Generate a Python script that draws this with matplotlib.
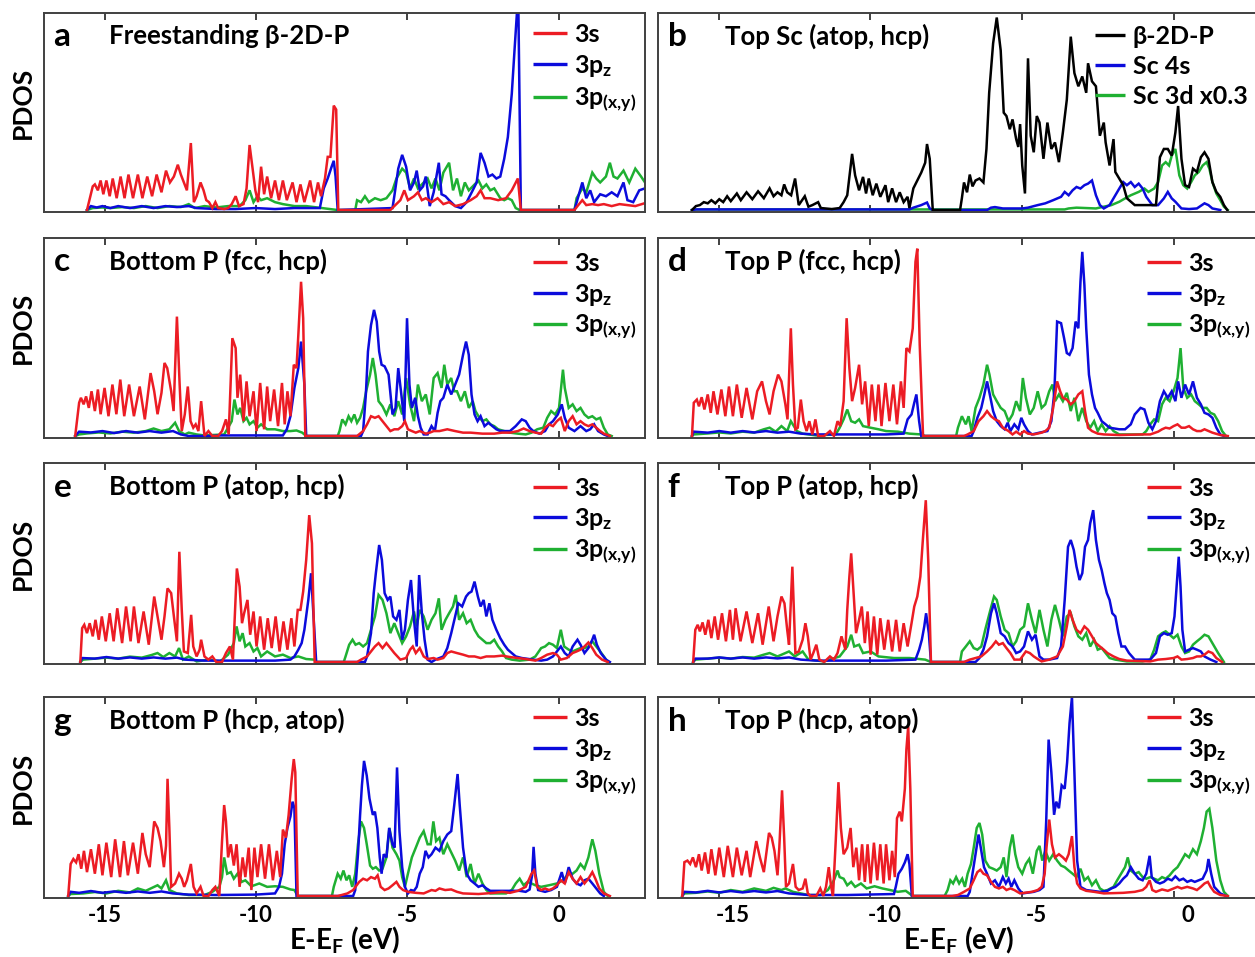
import matplotlib
matplotlib.use("Agg")
import matplotlib.pyplot as plt
from matplotlib.transforms import ScaledTranslation

plt.rcParams["font.family"] = ["Lato", "DejaVu Sans"]
plt.rcParams["font.weight"] = "bold"
plt.rcParams["axes.labelweight"] = "bold"
plt.rcParams["mathtext.default"] = "regular"
plt.rcParams["axes.unicode_minus"] = False

# ---------------------------------------------------------------------------
# Projected DOS, (E - E_F [eV], PDOS [arb. units]) vertices for every curve
# ---------------------------------------------------------------------------

# (a) freestanding beta-2D-P
A_3S = [(-15.58, 0), (-15.39, 12), (-15.32, 13), (-15.22, 10), (-15.13, 15), (-15.04, 8), (-14.94, 15),
        (-14.83, 7), (-14.73, 16), (-14.60, 6), (-14.47, 17), (-14.34, 6), (-14.21, 18), (-14.06, 6),
        (-13.90, 18), (-13.75, 6), (-13.59, 17), (-13.43, 7), (-13.28, 18), (-13.12, 9), (-12.97, 20),
        (-12.84, 14), (-12.71, 17), (-12.58, 23), (-12.48, 18), (-12.28, 10), (-12.15, 34), (-12.05, 4),
        (-11.96, 7), (-11.83, 14), (-11.73, 10), (-11.64, 5), (-11.55, 4), (-11.44, 1), (-11.34, 4),
        (-11.25, 1), (-11.05, 0.5), (-10.92, 1), (-10.80, 3), (-10.67, 7), (-10.56, 2), (-10.41, 3),
        (-10.31, 11), (-10.21, 33), (-10.11, 21), (-10.02, 10), (-9.93, 4), (-9.83, 22), (-9.73, 8),
        (-9.63, 17), (-9.50, 6), (-9.37, 15), (-9.24, 5), (-9.11, 15), (-8.98, 5), (-8.79, 14), (-8.66, 4),
        (-8.53, 13), (-8.40, 4), (-8.21, 15), (-8.08, 4), (-7.95, 14), (-7.85, 7), (-7.72, 16), (-7.63, 27),
        (-7.54, 27), (-7.43, 53), (-7.35, 51), (-7.28, 0), (-5.56, 0), (-5.43, 2), (-5.23, 5), (-5.10, 10),
        (-4.98, 5), (-4.78, 7), (-4.65, 9), (-4.52, 5), (-4.39, 6), (-4.20, 4), (-4.00, 6), (-3.81, 3),
        (-3.62, 4), (-3.42, 2), (-3.16, 3), (-2.91, 5), (-2.71, 7), (-2.58, 10), (-2.45, 6), (-2.26, 6),
        (-2.00, 5), (-1.74, 6), (-1.55, 10), (-1.35, 16), (-1.25, 0), (0.52, 0), (0.62, 2), (0.78, 5),
        (0.91, 2.5), (1.11, 3), (1.30, 2.5), (1.49, 3), (1.75, 2), (2.01, 3), (2.27, 2.5), (2.53, 2),
        (2.85, 3.5)]
A_3PZ = [(-15.58, 0), (-15.45, 2), (-15.26, 1.3), (-15.07, 2), (-14.81, 1), (-14.55, 2), (-14.16, 1),
         (-13.77, 2), (-13.38, 1), (-12.99, 2), (-12.61, 1.5), (-12.22, 2), (-11.96, 1), (-11.31, 0.5),
         (-10.67, 0.5), (-10.02, 1), (-9.37, 0.5), (-8.73, 1), (-7.89, 1), (-7.76, 11), (-7.63, 16),
         (-7.50, 22), (-7.43, 25), (-7.37, 17), (-7.30, 0), (-5.49, 1), (-5.43, 7), (-5.30, 21), (-5.17, 28),
         (-5.04, 22), (-4.91, 10), (-4.78, 14), (-4.69, 20), (-4.59, 10), (-4.48, 12), (-4.39, 17),
         (-4.26, 2), (-4.13, 9), (-3.96, 24), (-3.87, 8), (-3.74, 7), (-3.62, 5), (-3.42, 2), (-3.23, 1),
         (-3.04, 4), (-2.84, 10), (-2.71, 14), (-2.58, 29), (-2.45, 24), (-2.32, 17), (-2.19, 18),
         (-2.06, 16), (-1.93, 17), (-1.80, 26), (-1.68, 37), (-1.55, 59), (-1.46, 81), (-1.38, 100),
         (-1.33, 100), (-1.25, 0), (0.52, 0), (0.65, 7), (0.78, 14), (0.91, 6), (1.04, 10), (1.17, 4),
         (1.37, 8), (1.56, 7), (1.75, 9), (1.94, 7), (2.14, 14), (2.27, 5), (2.46, 4), (2.66, 10),
         (2.85, 11)]
A_3PXY = [(-15.58, 0), (-15.39, 1), (-15.07, 1.3), (-14.81, 1), (-14.42, 1.5), (-14.03, 1), (-13.64, 2),
          (-13.25, 1), (-12.86, 2), (-12.48, 1.5), (-12.22, 3), (-12.02, 1), (-11.70, 2), (-11.31, 1.3),
          (-10.92, 2), (-10.54, 2), (-10.35, 5), (-10.21, 10), (-10.08, 4), (-9.95, 7), (-9.83, 5),
          (-9.63, 6), (-9.37, 4), (-9.11, 3), (-8.73, 2), (-8.34, 2), (-7.82, 1), (-7.30, 0), (-6.72, 0),
          (-6.66, 5), (-6.53, 4), (-6.40, 7), (-6.27, 4), (-6.07, 6), (-5.88, 5), (-5.69, 6), (-5.49, 10),
          (-5.36, 16), (-5.17, 21), (-5.04, 19), (-4.91, 11), (-4.78, 16), (-4.65, 11), (-4.52, 13),
          (-4.33, 16), (-4.20, 11), (-4.07, 16), (-3.94, 10), (-3.81, 19), (-3.62, 24), (-3.49, 10),
          (-3.36, 16), (-3.23, 7), (-3.10, 14), (-2.97, 10), (-2.84, 12), (-2.65, 15), (-2.52, 11),
          (-2.39, 13), (-2.26, 10), (-2.13, 11), (-1.93, 6), (-1.80, 5), (-1.68, 6), (-1.55, 5), (-1.42, 1),
          (-1.29, 0), (0.52, 0), (0.59, 6), (0.78, 11), (0.91, 9), (1.11, 19), (1.24, 16), (1.37, 14),
          (1.56, 17), (1.69, 24), (1.81, 17), (1.94, 16), (2.14, 20), (2.33, 14), (2.53, 21), (2.72, 17),
          (2.85, 14)]

# (b) top Sc atom
B_P2D = [(-15.88, 0), (-15.75, 2), (-15.62, 2.5), (-15.49, 4), (-15.36, 3.4), (-15.24, 5), (-15.11, 3.4),
         (-14.98, 5.5), (-14.85, 4), (-14.72, 7), (-14.60, 4.5), (-14.40, 8.4), (-14.27, 5), (-14.08, 9),
         (-13.89, 5.5), (-13.70, 9.5), (-13.51, 6), (-13.32, 11), (-13.19, 7), (-13.06, 9), (-12.93, 7.5),
         (-12.84, 13), (-12.74, 9), (-12.61, 7.5), (-12.48, 16), (-12.36, 2.5), (-12.16, 7), (-12.04, 1.7),
         (-11.91, 2.5), (-11.72, 4), (-11.63, 1), (-11.27, 0.5), (-11.01, 1), (-10.88, 4), (-10.76, 7.5),
         (-10.60, 28.5), (-10.50, 17.6), (-10.37, 10), (-10.24, 16.8), (-10.14, 8.4), (-10.05, 16),
         (-9.92, 7.5), (-9.80, 13.4), (-9.67, 6.7), (-9.50, 12.6), (-9.41, 4), (-9.28, 11), (-9.15, 4),
         (-9.03, 9), (-8.90, 4), (-8.77, 6.7), (-8.71, 1), (-8.58, 11), (-8.45, 15), (-8.32, 19),
         (-8.19, 24), (-8.13, 33.5), (-8.04, 26), (-7.94, 0), (-7.04, 0), (-6.98, 6), (-6.91, 14),
         (-6.81, 9), (-6.72, 18), (-6.63, 12), (-6.53, 15), (-6.40, 16), (-6.27, 14), (-6.17, 31),
         (-6.08, 59.5), (-5.95, 84.6), (-5.83, 97.7), (-5.70, 81), (-5.60, 49.4), (-5.51, 47.7), (-5.40, 41),
         (-5.31, 46), (-5.19, 36), (-5.12, 32), (-5.06, 43.6), (-4.99, 22.6), (-4.90, 8.4), (-4.80, 77),
         (-4.71, 37.7), (-4.61, 29.3), (-4.51, 47.7), (-4.42, 44.4), (-4.29, 26), (-4.16, 44.4), (-4.03, 31),
         (-3.91, 34.3), (-3.78, 24.3), (-3.65, 39.4), (-3.52, 56), (-3.39, 88), (-3.27, 69.5), (-3.14, 62.8),
         (-3.01, 67.8), (-2.88, 59.5), (-2.82, 74.5), (-2.69, 65.3), (-2.56, 62.8), (-2.43, 37.7),
         (-2.30, 44.4), (-2.24, 34.3), (-2.11, 22.6), (-1.98, 36), (-1.92, 19.3), (-1.79, 16), (-1.66, 12.6),
         (-1.54, 6), (-1.28, 2.5), (-0.58, 2.5), (-0.45, 26.8), (-0.32, 31), (-0.19, 31), (-0.06, 27.6),
         (0.06, 39.4), (0.15, 52.8), (0.26, 26), (0.38, 12.6), (0.51, 11.7), (0.64, 21), (0.77, 19.3),
         (0.90, 26.8), (1.02, 29.3), (1.15, 26), (1.28, 14.2), (1.41, 9.2), (1.54, 6.7), (1.66, 2.5),
         (1.77, 0)]
B_SC4S = [(-15.88, 0), (-15.75, 0.3), (-8.71, 0.3), (-8.58, 1.2), (-8.32, 2.5), (-8.13, 3.8), (-8.04, 0.8),
          (-7.94, 0), (-6.15, 0), (-6.02, 1.2), (-5.89, 1.5), (-5.63, 0.8), (-4.99, 0.8), (-4.80, 1.2),
          (-4.48, 2.5), (-4.23, 3.4), (-3.97, 5), (-3.71, 6.7), (-3.59, 9.2), (-3.46, 7.5), (-3.33, 10),
          (-3.20, 11.7), (-3.07, 10.9), (-2.94, 12.6), (-2.82, 13.4), (-2.69, 15), (-2.56, 7.5), (-2.43, 2.5),
          (-2.30, 0.8), (-2.11, 2.5), (-1.92, 7.5), (-1.79, 10.9), (-1.66, 14.2), (-1.54, 12.6),
          (-1.41, 14.2), (-1.28, 11.7), (-1.15, 13.4), (-1.02, 10.9), (-0.90, 6.7), (-0.70, 2.5),
          (-0.51, 2.5), (-0.32, 5.9), (-0.19, 9.2), (-0.06, 5.9), (0.06, 4.2), (0.26, 0.8), (0.51, 0.5),
          (0.77, 0.8), (1.02, 3.4), (1.15, 2.5), (1.28, 0.8), (1.54, 0)]
B_SC3D = [(-15.88, 0), (-15.75, 0.3), (-3.59, 0.3), (-3.46, 0.8), (-3.20, 1.2), (-2.56, 0.8), (-2.30, 1.7),
          (-2.05, 2.5), (-1.79, 4.2), (-1.60, 5.9), (-1.41, 7.5), (-1.15, 9.2), (-0.96, 10.9), (-0.83, 9.2),
          (-0.64, 10.9), (-0.51, 14.2), (-0.38, 22.6), (-0.26, 24.3), (-0.15, 22.6), (-0.06, 27.6),
          (0.06, 31), (0.19, 17.6), (0.32, 12.6), (0.45, 10.9), (0.58, 14.2), (0.70, 17.6), (0.83, 19.3),
          (0.96, 22.6), (1.09, 24.3), (1.18, 21), (1.28, 14.2), (1.41, 8.4), (1.54, 5), (1.66, 1.7),
          (1.79, 0)]

# (c) bottom P, (fcc, hcp)
C_3S = [(-15.97, 0), (-15.84, 16.8), (-15.78, 19.3), (-15.69, 16), (-15.61, 20), (-15.52, 14.2), (-15.43, 22.6),
        (-15.32, 12.6), (-15.22, 23.5), (-15.13, 11), (-15.00, 24.3), (-14.87, 10), (-14.74, 26), (-14.61, 11),
        (-14.48, 28.5), (-14.35, 10), (-14.19, 26), (-14.03, 10), (-13.84, 25), (-13.67, 8.4), (-13.48, 31.8),
        (-13.36, 22.6), (-13.25, 11), (-13.12, 21.8), (-13.02, 36.9), (-12.93, 34.3), (-12.80, 22.6),
        (-12.72, 12.6), (-12.61, 60.3), (-12.52, 26), (-12.45, 2.5), (-12.35, 11), (-12.25, 25), (-12.16, 7.5),
        (-12.07, 4.2), (-11.99, 5.9), (-11.90, 2.5), (-11.81, 17.6), (-11.70, 0), (-11.57, 2.5), (-11.44, 0),
        (-11.25, 0), (-11.12, 2.5), (-10.99, 8.4), (-10.90, 0.8), (-10.78, 49.4), (-10.67, 44.4),
        (-10.61, 19.3), (-10.52, 31), (-10.41, 7.5), (-10.31, 27.6), (-10.21, 10), (-10.08, 22.6),
        (-9.98, 2.5), (-9.86, 26.8), (-9.73, 3.4), (-9.63, 25), (-9.53, 7.5), (-9.40, 23.5), (-9.27, 5),
        (-9.14, 26.8), (-9.05, 5.9), (-8.96, 22.6), (-8.86, 10), (-8.75, 36), (-8.66, 34.3), (-8.60, 51),
        (-8.51, 77.9), (-8.44, 59.5), (-8.37, 0), (-6.66, 0), (-6.46, 2.5), (-6.33, 5.9), (-6.20, 10),
        (-6.07, 9.2), (-5.95, 10), (-5.82, 7.5), (-5.69, 5), (-5.56, 2.5), (-5.43, 3.4), (-5.30, 3.4),
        (-5.17, 5), (-5.08, 7.5), (-4.98, 3.4), (-4.85, 2.5), (-4.72, 1.7), (-4.59, 2.5), (-4.39, 1.2),
        (-4.26, 1.7), (-4.13, 2.5), (-3.94, 2.5), (-3.68, 3.4), (-3.42, 2.5), (-3.16, 1.7), (-2.91, 1.7),
        (-2.52, 1.2), (-2.13, 1.2), (-1.87, 1.7), (-1.61, 1.7), (-1.35, 2.5), (-1.16, 3.8), (-0.96, 2.5),
        (-0.77, 1.7), (-0.58, 1.2), (-0.45, 4.2), (-0.32, 5.9), (-0.19, 5), (-0.06, 7.5), (0.07, 9.2),
        (0.20, 2.5), (0.33, 7.5), (0.46, 10), (0.59, 5.9), (0.72, 7.5), (0.85, 5.9), (0.98, 5), (1.11, 5.9),
        (1.24, 4.2), (1.37, 2.5), (1.49, 1.2), (1.69, 0)]
C_3PZ = [(-15.97, 0), (-15.84, 2.2), (-15.45, 1.8), (-15.07, 2.5), (-14.68, 1.5), (-14.29, 2.5), (-13.90, 1.7),
         (-13.51, 2.5), (-13.12, 1.7), (-12.74, 2.5), (-12.48, 0.8), (-12.22, 0), (-11.44, 0), (-11.18, 0.3),
         (-9.11, 0.3), (-8.98, 3.4), (-8.86, 10), (-8.73, 24.3), (-8.60, 34.3), (-8.51, 47.7), (-8.40, 26),
         (-8.34, 0), (-6.53, 0), (-6.46, 2.5), (-6.37, 21), (-6.30, 42.7), (-6.20, 56), (-6.10, 63.7),
         (-6.01, 57.8), (-5.93, 42.7), (-5.85, 36), (-5.75, 35.2), (-5.62, 31), (-5.49, 10.9), (-5.39, 14.2),
         (-5.30, 34.3), (-5.21, 22.6), (-5.10, 7.5), (-5.01, 59.5), (-4.93, 26), (-4.85, 14.2), (-4.74, 19.3),
         (-4.65, 10), (-4.56, 4.2), (-4.46, 0.8), (-4.33, 0.8), (-4.20, 5), (-4.09, 2.5), (-4.00, 11.7),
         (-3.91, 17.6), (-3.81, 19.3), (-3.68, 26), (-3.55, 21), (-3.42, 26), (-3.29, 31), (-3.16, 41),
         (-3.06, 47.7), (-2.97, 41), (-2.88, 21), (-2.78, 10.9), (-2.68, 7.5), (-2.58, 10), (-2.45, 5),
         (-2.32, 6.7), (-2.19, 5), (-2.06, 3.4), (-1.93, 2.5), (-1.61, 2.5), (-1.42, 5), (-1.22, 8.4),
         (-1.09, 7.5), (-0.96, 4.2), (-0.84, 2.5), (-0.64, 1.2), (-0.45, 2.5), (-0.32, 5.9), (-0.19, 7.5),
         (-0.03, 10.9), (0.10, 16), (0.20, 9.2), (0.33, 4.2), (0.52, 2.5), (0.72, 5), (0.91, 2.5), (1.04, 3.4),
         (1.17, 5.9), (1.30, 2.5), (1.49, 0.8), (1.62, 0)]
C_3PXY = [(-15.97, 0), (-15.84, 0.8), (-15.58, 1.3), (-15.19, 1.8), (-14.81, 1.3), (-14.42, 2.2), (-14.03, 1.7),
          (-13.64, 2.5), (-13.38, 3.8), (-13.12, 2.5), (-12.86, 3.4), (-12.67, 6.7), (-12.54, 2.5),
          (-12.35, 0.8), (-12.22, 1.7), (-11.96, 0.8), (-11.70, 0.3), (-11.05, 0.8), (-10.92, 4.2),
          (-10.80, 7.5), (-10.71, 18.4), (-10.61, 10.9), (-10.52, 14.2), (-10.41, 7.5), (-10.31, 9.2),
          (-10.21, 5.9), (-10.08, 7.5), (-9.95, 4.2), (-9.83, 5.9), (-9.63, 3.4), (-9.37, 3.4), (-9.11, 2.5),
          (-8.86, 2.5), (-8.66, 2.8), (-8.47, 1.7), (-8.34, 0), (-7.30, 0), (-7.24, 2.5), (-7.15, 8.4),
          (-7.04, 5.9), (-6.94, 10), (-6.85, 7.5), (-6.75, 10.9), (-6.66, 6.7), (-6.56, 9.2), (-6.46, 14.2),
          (-6.36, 22.6), (-6.23, 31), (-6.14, 39.4), (-6.05, 31), (-5.95, 17.6), (-5.82, 15), (-5.69, 10.9),
          (-5.56, 16), (-5.43, 10), (-5.30, 17.6), (-5.17, 10.9), (-5.04, 29.3), (-4.91, 16), (-4.78, 7.5),
          (-4.65, 26), (-4.52, 17.6), (-4.39, 21), (-4.26, 10.9), (-4.13, 29.3), (-4.00, 31.8), (-3.87, 24.3),
          (-3.78, 36), (-3.68, 26), (-3.55, 29.3), (-3.45, 22.6), (-3.36, 22.6), (-3.23, 17.6), (-3.10, 22.6),
          (-2.97, 14.2), (-2.84, 17.6), (-2.75, 12.6), (-2.65, 10), (-2.52, 7.5), (-2.39, 8.4), (-2.26, 5.9),
          (-2.13, 5), (-2.00, 3.4), (-1.80, 2.5), (-1.61, 1.7), (-1.35, 1.2), (-1.09, 0.8), (-0.90, 1.7),
          (-0.71, 3.4), (-0.51, 4.2), (-0.38, 9.2), (-0.25, 12.6), (-0.12, 10.9), (0.01, 14.2), (0.14, 33.5),
          (0.20, 24.3), (0.33, 14.2), (0.46, 16), (0.59, 12.6), (0.72, 14.2), (0.85, 10.9), (0.98, 9.2),
          (1.11, 10), (1.24, 8.4), (1.37, 9.2), (1.49, 4.2), (1.62, 0.8), (1.75, 0)]

# (d) top P, (fcc, hcp)
D_3S = [(-15.88, 0), (-15.82, 16.8), (-15.72, 18.4), (-15.65, 15), (-15.56, 19.6), (-15.47, 13.4), (-15.36, 21),
        (-15.26, 11.7), (-15.17, 22.6), (-15.04, 10.9), (-14.91, 23.5), (-14.78, 10), (-14.66, 25), (-14.53, 10),
        (-14.40, 26), (-14.24, 9.2), (-14.08, 24.3), (-13.89, 8.4), (-13.73, 22.6), (-13.57, 27.6),
        (-13.44, 17.6), (-13.32, 10.9), (-13.19, 22.6), (-13.04, 31), (-12.93, 27.6), (-12.80, 16),
        (-12.73, 8.4), (-12.62, 54.4), (-12.55, 26), (-12.47, 3.4), (-12.39, 4.2), (-12.29, 18.4),
        (-12.20, 7.5), (-12.10, 2.5), (-12.01, 7.5), (-11.91, 0.8), (-11.81, 8.4), (-11.72, 0), (-11.52, 0),
        (-11.33, 2.5), (-11.20, 0), (-11.08, 7.5), (-10.99, 5), (-10.88, 17.6), (-10.78, 59.5), (-10.69, 34.3),
        (-10.60, 17.6), (-10.50, 24.3), (-10.37, 36), (-10.27, 16), (-10.17, 27.6), (-10.05, 5), (-9.95, 26),
        (-9.83, 7.5), (-9.73, 26), (-9.63, 5), (-9.50, 26.8), (-9.37, 7.5), (-9.24, 26), (-9.12, 5.9),
        (-8.99, 27.6), (-8.90, 14.2), (-8.81, 44.4), (-8.71, 42.7), (-8.60, 54.4), (-8.51, 88), (-8.45, 94.6),
        (-8.37, 46), (-8.26, 0), (-6.91, 0), (-6.79, 0.8), (-6.59, 2.5), (-6.43, 7.5), (-6.27, 10),
        (-6.15, 12.6), (-6.02, 10), (-5.89, 8.4), (-5.76, 7.5), (-5.63, 4.2), (-5.44, 2.5), (-5.31, 0.8),
        (-5.19, 2.2), (-5.06, 0.8), (-4.93, 2.5), (-4.80, 1.2), (-4.61, 0.8), (-4.35, 1.7), (-4.23, 2.5),
        (-4.10, 4.2), (-3.97, 14.2), (-3.84, 27.6), (-3.74, 22.6), (-3.65, 19.3), (-3.52, 18.4), (-3.39, 16),
        (-3.27, 17.6), (-3.14, 21), (-3.01, 22.6), (-2.92, 12.6), (-2.82, 4.2), (-2.69, 2.5), (-2.50, 1.2),
        (-2.30, 0.8), (-1.79, 0.5), (-1.02, 0.8), (-0.77, 0.8), (-0.51, 2.2), (-0.38, 3.4), (-0.26, 4.2),
        (-0.13, 3.8), (0.00, 5), (0.13, 5.9), (0.26, 4.2), (0.38, 4.2), (0.51, 5), (0.64, 3.4), (0.77, 2.5),
        (0.90, 2.5), (1.02, 3.4), (1.28, 1.7), (1.54, 0.5), (1.79, 0)]
D_3PZ = [(-15.88, 0), (-15.82, 2.2), (-15.36, 1.7), (-14.98, 2.5), (-14.60, 1.7), (-14.21, 2.5), (-13.83, 1.8),
         (-13.44, 2.5), (-13.06, 1.7), (-12.68, 2.2), (-12.29, 1.2), (-11.78, 0.8), (-10.76, 0.8), (-9.48, 0.8),
         (-8.90, 1.2), (-8.77, 8.4), (-8.64, 10.9), (-8.55, 16.8), (-8.48, 21), (-8.39, 7.5), (-8.32, 0),
         (-6.66, 0), (-6.59, 2.5), (-6.47, 9.2), (-6.34, 14.2), (-6.24, 21), (-6.15, 27.6), (-6.06, 21),
         (-5.95, 12.6), (-5.83, 7.5), (-5.70, 5), (-5.57, 3.4), (-5.47, 6.7), (-5.38, 2.5), (-5.25, 5.9),
         (-5.12, 3.4), (-5.02, 9.2), (-4.93, 5.9), (-4.80, 2.5), (-4.67, 0.8), (-4.42, 1.7), (-4.16, 2.5),
         (-4.03, 7.5), (-3.93, 22.6), (-3.84, 57.8), (-3.71, 57), (-3.61, 49.4), (-3.52, 41.9), (-3.43, 41),
         (-3.33, 44.4), (-3.23, 57.8), (-3.14, 54.4), (-3.07, 77.9), (-3.01, 93), (-2.94, 76.2), (-2.88, 54.4),
         (-2.79, 31), (-2.69, 21), (-2.59, 14.2), (-2.50, 11.7), (-2.37, 7.5), (-2.24, 5.9), (-2.11, 4.2),
         (-1.79, 3.4), (-1.60, 3.4), (-1.41, 5.9), (-1.28, 10.9), (-1.09, 14.2), (-0.96, 13.4), (-0.83, 6.7),
         (-0.70, 3.4), (-0.58, 7.5), (-0.45, 17.6), (-0.32, 22.6), (-0.19, 19.3), (-0.06, 22.6), (0.06, 17.6),
         (0.15, 27.6), (0.26, 19.3), (0.38, 26), (0.51, 21), (0.64, 27.6), (0.77, 19.3), (0.90, 16),
         (1.02, 11.7), (1.15, 10.9), (1.28, 9.2), (1.41, 4.2), (1.54, 0.8), (1.66, 0)]
D_3PXY = [(-15.88, 0), (-15.82, 0.8), (-15.36, 1.3), (-14.98, 1.8), (-14.60, 1.3), (-14.21, 2.2), (-13.83, 1.7),
          (-13.51, 3.4), (-13.32, 4.2), (-13.12, 2.2), (-12.93, 5), (-12.74, 2.5), (-12.62, 7.5), (-12.42, 2.5),
          (-12.23, 1.2), (-11.78, 0.3), (-11.14, 0.8), (-11.01, 4.2), (-10.88, 8.4), (-10.76, 13.4),
          (-10.63, 7.5), (-10.50, 6.7), (-10.37, 8.4), (-10.24, 5), (-9.99, 4.2), (-9.73, 3.4), (-9.48, 2.5),
          (-9.09, 2.2), (-8.71, 1.2), (-8.32, 0.8), (-8.19, 0), (-7.17, 0), (-7.11, 4.2), (-6.98, 10),
          (-6.85, 5.9), (-6.76, 10), (-6.66, 2.5), (-6.53, 14.2), (-6.40, 19.3), (-6.27, 26), (-6.15, 36),
          (-6.07, 31), (-5.95, 21), (-5.83, 17.6), (-5.70, 14.2), (-5.57, 12.6), (-5.44, 7.5), (-5.31, 10.9),
          (-5.19, 17.6), (-5.06, 12.6), (-4.97, 29.3), (-4.87, 19.3), (-4.74, 10.9), (-4.61, 14.2),
          (-4.48, 22.6), (-4.35, 14.2), (-4.23, 16), (-4.10, 22.6), (-3.99, 26), (-3.91, 17.6), (-3.78, 21),
          (-3.65, 17.6), (-3.52, 21.8), (-3.39, 12.6), (-3.27, 19.3), (-3.14, 7.5), (-3.01, 14.2), (-2.88, 7.5),
          (-2.75, 4.2), (-2.62, 7.5), (-2.50, 2.5), (-2.37, 5.9), (-2.24, 2.5), (-2.11, 5), (-1.98, 2.5),
          (-1.79, 0.8), (-1.02, 0.8), (-0.90, 2.5), (-0.77, 5.9), (-0.64, 8.4), (-0.51, 7.5), (-0.38, 16),
          (-0.26, 19.3), (-0.13, 17.6), (0.00, 22.6), (0.13, 29.3), (0.23, 44.4), (0.32, 24.3), (0.45, 19.3),
          (0.58, 21), (0.70, 17.6), (0.83, 16), (0.96, 14.2), (1.09, 14.2), (1.22, 11.7), (1.34, 10.9),
          (1.47, 7.5), (1.60, 2.5), (1.73, 0)]

# (e) bottom P, (atop, hcp)
E_3S = [(-15.80, 0), (-15.74, 17), (-15.67, 18.7), (-15.58, 14.5), (-15.49, 19.5), (-15.39, 12.9), (-15.30, 21.2),
        (-15.19, 11.2), (-15.09, 22.9), (-14.96, 10.4), (-14.83, 24.5), (-14.70, 10.4), (-14.58, 27),
        (-14.42, 9.5), (-14.29, 27.9), (-14.14, 10.4), (-14.03, 27.9), (-13.88, 9.5), (-13.71, 25.4),
        (-13.54, 8.7), (-13.36, 32.9), (-13.25, 22.9), (-13.12, 11.2), (-13.02, 22.9), (-12.92, 37),
        (-12.80, 34.6), (-12.71, 22.9), (-12.61, 10.4), (-12.53, 55.4), (-12.45, 26.2), (-12.38, 5.3),
        (-12.25, 4.5), (-12.14, 23.7), (-12.07, 7.8), (-11.96, 2.8), (-11.86, 6.2), (-11.81, 11.2),
        (-11.70, 2.8), (-11.57, 1.2), (-11.44, 2.8), (-11.31, 0), (-11.12, 0), (-10.99, 4.5), (-10.86, 7.8),
        (-10.76, 1.2), (-10.63, 47), (-10.54, 37.9), (-10.46, 19.5), (-10.39, 24.5), (-10.28, 31.2),
        (-10.19, 13.7), (-10.08, 25.4), (-9.98, 7.8), (-9.86, 22.9), (-9.73, 6.2), (-9.61, 22), (-9.48, 7),
        (-9.35, 22.9), (-9.22, 5.3), (-9.09, 20.4), (-8.96, 6.2), (-8.83, 22), (-8.73, 7.8), (-8.62, 26.2),
        (-8.53, 26.2), (-8.44, 35.4), (-8.34, 51.3), (-8.24, 73.8), (-8.15, 59.6), (-8.06, 0), (-6.66, 0),
        (-6.53, 1.2), (-6.33, 2.8), (-6.20, 5.3), (-6.07, 7.8), (-5.95, 9.5), (-5.82, 7), (-5.69, 9.5),
        (-5.56, 7), (-5.43, 4.5), (-5.23, 1.2), (-5.04, 2), (-4.91, 6.2), (-4.82, 7.8), (-4.72, 4.5),
        (-4.59, 7), (-4.46, 2.8), (-4.33, 1.5), (-4.13, 2), (-4.00, 1.2), (-3.81, 2), (-3.68, 4.5),
        (-3.55, 5.3), (-3.36, 4.5), (-3.16, 3.7), (-2.97, 2.8), (-2.78, 2.8), (-2.58, 2), (-2.39, 2.8),
        (-2.13, 2.8), (-1.87, 3.2), (-1.61, 2.5), (-1.35, 2), (-1.09, 1.5), (-0.77, 0.7), (-0.58, 2),
        (-0.38, 3.7), (-0.19, 4.5), (-0.06, 3.7), (0.07, 1.2), (0.27, 2), (0.46, 4.5), (0.59, 5.3),
        (0.72, 6.2), (0.85, 7.8), (0.98, 9.8), (1.11, 7), (1.24, 3.7), (1.43, 1.2), (1.62, 0)]
E_3PZ = [(-15.80, 0), (-15.74, 2), (-15.32, 1.7), (-14.94, 2.5), (-14.55, 1.7), (-14.16, 2.3), (-13.77, 1.7),
         (-13.38, 2.3), (-12.99, 1.7), (-12.61, 2.2), (-12.35, 1.2), (-11.70, 0.7), (-10.67, 0.7), (-9.37, 0.7),
         (-8.86, 1.2), (-8.73, 2.8), (-8.60, 6.2), (-8.49, 9.5), (-8.40, 16.2), (-8.27, 31.2), (-8.18, 44.6),
         (-8.11, 26.2), (-8.01, 0), (-6.40, 0), (-6.33, 2.8), (-6.20, 14.5), (-6.11, 34.6), (-6.04, 44.6),
         (-5.93, 58.8), (-5.84, 51.3), (-5.75, 34.6), (-5.65, 31.2), (-5.56, 32.9), (-5.47, 22.9),
         (-5.36, 21.2), (-5.26, 26.2), (-5.17, 11.2), (-5.08, 16.2), (-4.98, 31.2), (-4.88, 41.2),
         (-4.78, 21.2), (-4.69, 7.8), (-4.61, 43.7), (-4.52, 24.5), (-4.43, 11.2), (-4.33, 1.2), (-4.20, 0),
         (-4.07, 1.2), (-3.94, 2), (-3.81, 2.8), (-3.68, 7), (-3.55, 14.5), (-3.42, 22.9), (-3.32, 29.5),
         (-3.19, 27.9), (-3.06, 32.9), (-2.97, 34.6), (-2.88, 35.4), (-2.78, 40.4), (-2.67, 32.9),
         (-2.58, 27.9), (-2.48, 31.2), (-2.39, 22.9), (-2.29, 29.5), (-2.19, 21.2), (-2.06, 16.2), (-1.93, 12),
         (-1.80, 8.7), (-1.68, 6.2), (-1.55, 4.5), (-1.42, 2.8), (-1.22, 2), (-0.84, 1.2), (-0.58, 0.7),
         (-0.38, 1.2), (-0.19, 2.8), (-0.06, 5.3), (0.07, 7.8), (0.20, 4.5), (0.33, 2.8), (0.46, 7.8),
         (0.62, 11.2), (0.72, 8.7), (0.85, 4.5), (0.98, 7), (1.11, 11.2), (1.17, 13.7), (1.26, 8.7),
         (1.39, 4.5), (1.56, 1.2), (1.69, 0)]
E_3PXY = [(-15.80, 0), (-15.71, 1.2), (-15.32, 1.7), (-14.94, 2.2), (-14.55, 1.7), (-14.16, 2.7), (-13.77, 2.2),
          (-13.45, 3.5), (-13.25, 4.5), (-13.06, 2.5), (-12.86, 4.5), (-12.67, 2.8), (-12.54, 7), (-12.41, 1.2),
          (-12.22, 2.8), (-11.96, 0.3), (-11.57, 1.2), (-11.18, 0.3), (-10.92, 3.7), (-10.73, 9.5),
          (-10.64, 17.9), (-10.54, 10.4), (-10.44, 14.5), (-10.35, 7.8), (-10.21, 9.5), (-10.08, 5.3),
          (-9.95, 7), (-9.83, 2.8), (-9.63, 5.3), (-9.37, 2.8), (-9.11, 3.7), (-8.86, 2), (-8.60, 2.8),
          (-8.34, 1.5), (-8.08, 1.2), (-8.01, 0), (-7.10, 0), (-7.04, 2.8), (-6.92, 8.7), (-6.81, 11.2),
          (-6.71, 8.7), (-6.59, 9.5), (-6.46, 7.8), (-6.33, 9.5), (-6.20, 16.2), (-6.07, 22.9), (-5.95, 33.7),
          (-5.82, 31.2), (-5.69, 24.5), (-5.56, 14.5), (-5.43, 19.5), (-5.30, 14.5), (-5.17, 9.5),
          (-5.04, 12.9), (-4.91, 17.9), (-4.78, 25.4), (-4.69, 17.9), (-4.59, 26.2), (-4.46, 22.9),
          (-4.33, 16.2), (-4.20, 21.2), (-4.07, 24.5), (-3.96, 32), (-3.87, 16.2), (-3.74, 21.2), (-3.62, 24.5),
          (-3.49, 27.9), (-3.40, 33.7), (-3.29, 21.2), (-3.16, 24.5), (-3.04, 19.5), (-2.91, 21.2),
          (-2.78, 16.2), (-2.65, 12.9), (-2.52, 11.2), (-2.39, 9.5), (-2.26, 9.5), (-2.13, 11.2), (-2.00, 7.8),
          (-1.87, 5.3), (-1.74, 2), (-1.55, 1.2), (-1.29, 0.7), (-0.96, 1.2), (-0.77, 2.8), (-0.58, 7),
          (-0.45, 7.8), (-0.32, 9.5), (-0.19, 8.7), (-0.06, 7), (0.07, 16.2), (0.18, 7.8), (0.33, 6.2),
          (0.46, 5.3), (0.59, 6.2), (0.72, 7), (0.85, 7), (0.98, 7.8), (1.11, 10.4), (1.24, 7.8), (1.37, 5.3),
          (1.49, 2.8), (1.62, 0)]

# (f) top P, (atop, hcp)
F_3S = [(-15.84, 0), (-15.77, 16.2), (-15.69, 18.7), (-15.62, 15.4), (-15.53, 19.9), (-15.44, 13.7), (-15.34, 21.2),
        (-15.24, 12), (-15.13, 22.9), (-15.02, 11.2), (-14.89, 24.5), (-14.76, 10.4), (-14.63, 26.2),
        (-14.53, 11.2), (-14.44, 27), (-14.28, 10.4), (-14.08, 25.4), (-13.89, 9.5), (-13.70, 24.5),
        (-13.55, 8.7), (-13.35, 27.9), (-13.19, 10.4), (-13.06, 22.9), (-12.93, 32.9), (-12.83, 29.5),
        (-12.74, 16.2), (-12.68, 8.7), (-12.57, 47.9), (-12.47, 4.5), (-12.36, 5.3), (-12.23, 11.2),
        (-12.14, 19.5), (-12.06, 12.9), (-11.97, 1.2), (-11.88, 4.5), (-11.78, 8.7), (-11.68, 1.2),
        (-11.52, 0), (-11.33, 2.8), (-11.20, 1.2), (-11.08, 4.5), (-10.95, 12.9), (-10.82, 6.2),
        (-10.76, 26.2), (-10.69, 42.9), (-10.63, 54.6), (-10.55, 34.6), (-10.47, 14.5), (-10.37, 21.2),
        (-10.28, 27.9), (-10.18, 9.5), (-10.09, 25.4), (-9.99, 3.7), (-9.88, 22.9), (-9.77, 3.7), (-9.67, 22),
        (-9.54, 6.2), (-9.41, 21.2), (-9.28, 5.3), (-9.15, 21.2), (-9.03, 5.3), (-8.90, 19.5), (-8.77, 7.8),
        (-8.64, 19.5), (-8.55, 27.9), (-8.45, 32.9), (-8.35, 42.9), (-8.26, 62.9), (-8.17, 81.3),
        (-8.09, 51.3), (-8.00, 0), (-6.91, 0), (-6.72, 1.2), (-6.53, 2), (-6.34, 2.8), (-6.15, 5.3),
        (-5.99, 7.8), (-5.86, 10.4), (-5.76, 8.7), (-5.63, 9.5), (-5.51, 7), (-5.38, 4.5), (-5.25, 1.2),
        (-5.06, 1.2), (-4.87, 5.3), (-4.74, 4.5), (-4.61, 2.8), (-4.48, 1.5), (-4.35, 0.3), (-4.10, 1.2),
        (-3.84, 2.8), (-3.65, 7.8), (-3.52, 17.9), (-3.43, 26.2), (-3.33, 21.2), (-3.20, 16.2), (-3.07, 14.5),
        (-2.94, 17.9), (-2.82, 16.2), (-2.69, 12.9), (-2.56, 9.5), (-2.43, 7.8), (-2.30, 6.2), (-2.18, 4.5),
        (-1.98, 2.8), (-1.79, 1.5), (-1.54, 0.7), (-0.77, 0.3), (-0.51, 1.2), (-0.26, 1.5), (0.00, 2),
        (0.13, 2.8), (0.26, 1.2), (0.45, 1.5), (0.64, 2), (0.77, 2.8), (0.90, 2.8), (1.02, 3.7), (1.15, 5.3),
        (1.28, 4.5), (1.41, 2), (1.60, 0)]
F_3PZ = [(-15.84, 0), (-15.77, 1.7), (-15.36, 1.7), (-14.98, 2.3), (-14.60, 1.7), (-14.21, 2.3), (-13.83, 1.7),
         (-13.44, 2.3), (-13.06, 1.8), (-12.68, 2.3), (-12.29, 1.2), (-11.78, 0.7), (-9.48, 0.7), (-8.51, 1.2),
         (-8.39, 6.2), (-8.30, 11.2), (-8.22, 17.9), (-8.16, 24.5), (-8.07, 14.5), (-8.00, 0), (-6.53, 0),
         (-6.40, 2), (-6.27, 6.2), (-6.15, 12.9), (-6.02, 24.5), (-5.92, 29.5), (-5.83, 24.5), (-5.70, 14.5),
         (-5.57, 12.9), (-5.44, 9.5), (-5.31, 7.8), (-5.19, 4.5), (-5.06, 5.3), (-4.93, 7.8), (-4.80, 15.4),
         (-4.67, 11.2), (-4.55, 13.7), (-4.42, 2.8), (-4.29, 1.2), (-4.10, 1.2), (-3.84, 2), (-3.71, 7.8),
         (-3.59, 31.2), (-3.48, 57.9), (-3.39, 61.3), (-3.29, 56.3), (-3.20, 47.9), (-3.10, 41.2),
         (-3.01, 44.6), (-2.92, 57.9), (-2.82, 61.3), (-2.75, 69.6), (-2.65, 76.3), (-2.56, 61.3),
         (-2.46, 51.3), (-2.37, 46.2), (-2.28, 39.6), (-2.20, 34.6), (-2.11, 31.2), (-2.02, 24.5),
         (-1.92, 22.9), (-1.82, 14.5), (-1.72, 7.8), (-1.60, 7.8), (-1.47, 4.5), (-1.28, 1.2), (-0.77, 1.2),
         (-0.58, 4.5), (-0.45, 12.9), (-0.32, 14.5), (-0.19, 13.7), (-0.06, 14.5), (0.03, 22.9), (0.10, 37.9),
         (0.17, 52.9), (0.23, 37.9), (0.29, 16.2), (0.38, 5.3), (0.51, 6.2), (0.64, 7), (0.77, 6.2),
         (0.90, 5.3), (1.02, 2.8), (1.22, 1.2), (1.41, 0)]
F_3PXY = [(-15.84, 0), (-15.77, 1.2), (-15.36, 1.7), (-14.98, 2.2), (-14.60, 1.7), (-14.21, 2.5), (-13.83, 2.2),
          (-13.51, 3.7), (-13.32, 4.5), (-13.06, 2.8), (-12.80, 4.5), (-12.68, 5.3), (-12.49, 2.8),
          (-12.23, 5.3), (-12.04, 1.2), (-11.52, 0.3), (-11.01, 2.8), (-10.76, 7.8), (-10.63, 13.7),
          (-10.53, 7.8), (-10.37, 8.7), (-10.24, 4.5), (-9.99, 5.3), (-9.73, 2.8), (-9.22, 2), (-8.71, 2),
          (-8.19, 1.2), (-8.00, 0), (-7.04, 0), (-6.98, 5.3), (-6.85, 7.8), (-6.72, 10.4), (-6.59, 7),
          (-6.47, 6.2), (-6.34, 7.8), (-6.21, 16.2), (-6.04, 26.2), (-5.92, 32.9), (-5.83, 31.2),
          (-5.70, 22.9), (-5.57, 16.2), (-5.44, 14.5), (-5.31, 7.8), (-5.19, 10.4), (-5.06, 16.2),
          (-4.93, 17.9), (-4.80, 29.5), (-4.67, 21.2), (-4.55, 14.5), (-4.42, 26.2), (-4.29, 16.2),
          (-4.16, 7.8), (-4.03, 21.2), (-3.91, 28.7), (-3.78, 21.2), (-3.65, 12.9), (-3.52, 22.9),
          (-3.39, 24.5), (-3.27, 17.9), (-3.14, 12.9), (-3.01, 11.2), (-2.88, 14.5), (-2.75, 7.8),
          (-2.62, 11.2), (-2.50, 6.2), (-2.37, 7), (-2.24, 4.5), (-2.11, 2), (-1.92, 1.2), (-1.54, 0.3),
          (-1.02, 0.3), (-0.77, 1.2), (-0.64, 6.2), (-0.51, 12.9), (-0.38, 14.5), (-0.26, 15.4), (-0.13, 13.7),
          (0.00, 12), (0.13, 13.7), (0.26, 7.8), (0.38, 4.5), (0.51, 5.3), (0.64, 8.7), (0.77, 10.4),
          (0.90, 12), (1.02, 13.7), (1.15, 12.9), (1.28, 9.5), (1.47, 4.5), (1.66, 0)]

# (g) bottom P, (hcp, atop)
G_3S = [(-16.20, 0), (-16.12, 16.1), (-16.03, 18.6), (-15.94, 16.9), (-15.86, 21), (-15.77, 13.7), (-15.68, 22.7),
        (-15.58, 12), (-15.45, 23.5), (-15.32, 11.2), (-15.19, 26), (-15.07, 10.4), (-14.94, 26.8),
        (-14.78, 9.5), (-14.65, 28.5), (-14.49, 9.5), (-14.36, 27.6), (-14.23, 10.4), (-14.06, 26.8),
        (-13.90, 11.2), (-13.75, 31.7), (-13.64, 21), (-13.51, 14.5), (-13.36, 37.5), (-13.25, 34.2),
        (-13.15, 27.6), (-13.04, 14.5), (-12.97, 25.2), (-12.92, 58.9), (-12.86, 34.2), (-12.80, 4.6),
        (-12.67, 6.3), (-12.54, 11.2), (-12.45, 8.7), (-12.37, 4.6), (-12.28, 7.9), (-12.15, 16.1),
        (-12.06, 4.6), (-11.96, 1.3), (-11.83, 4.6), (-11.73, 0), (-11.57, 0), (-11.44, 3), (-11.34, 4.6),
        (-11.21, 0), (-11.12, 27.6), (-11.05, 45.7), (-10.99, 37.5), (-10.92, 19.4), (-10.83, 26),
        (-10.73, 15.3), (-10.64, 26), (-10.54, 4.6), (-10.44, 19.4), (-10.35, 9.5), (-10.24, 24.3),
        (-10.15, 3), (-10.05, 24.3), (-9.95, 9.5), (-9.83, 26), (-9.70, 8.7), (-9.57, 26), (-9.44, 7.9),
        (-9.31, 22.7), (-9.20, 9.5), (-9.11, 33.4), (-9.01, 29.3), (-8.92, 40.8), (-8.82, 58.9), (-8.75, 68.8),
        (-8.70, 62.2), (-8.62, 0), (-7.30, 0), (-7.17, 0.5), (-6.98, 1.3), (-6.79, 3), (-6.59, 7.1),
        (-6.46, 8.7), (-6.33, 7.9), (-6.20, 9.5), (-6.07, 8.7), (-5.98, 10.4), (-5.88, 4.6), (-5.75, 3),
        (-5.62, 3.8), (-5.49, 5.4), (-5.36, 7.1), (-5.26, 4.6), (-5.14, 3), (-4.98, 2.1), (-4.72, 1.6),
        (-4.46, 1.3), (-4.20, 3), (-4.07, 2.6), (-3.94, 3.8), (-3.75, 3), (-3.55, 3.3), (-3.36, 2.1),
        (-3.16, 1.3), (-2.65, 1), (-2.13, 1.6), (-1.87, 2.1), (-1.61, 1.6), (-1.35, 2.6), (-1.09, 4.6),
        (-0.90, 11.2), (-0.81, 12.8), (-0.71, 4.6), (-0.58, 3), (-0.45, 3.8), (-0.32, 3), (-0.19, 3.8),
        (-0.06, 5.4), (0.07, 7.9), (0.20, 6.3), (0.33, 12), (0.46, 8.7), (0.59, 6.3), (0.72, 9.5), (0.85, 6.3),
        (0.98, 8.7), (1.11, 12), (1.21, 8.7), (1.34, 3.8), (1.49, 1.3), (1.69, 0)]
G_3PZ = [(-16.20, 0), (-16.12, 2.1), (-15.84, 1.6), (-15.45, 2.5), (-15.07, 1.6), (-14.68, 2.3), (-14.29, 1.6),
         (-13.90, 2.3), (-13.51, 1.6), (-13.12, 2.3), (-12.74, 1.3), (-12.22, 0.7), (-11.31, 0.5), (-10.02, 0.7),
         (-9.37, 1.3), (-9.24, 4.6), (-9.14, 11.2), (-9.05, 26), (-8.96, 34.2), (-8.86, 40), (-8.79, 47.4),
         (-8.73, 44.1), (-8.66, 0), (-6.79, 0), (-6.72, 3), (-6.63, 21), (-6.56, 40.8), (-6.50, 55.6),
         (-6.43, 67.9), (-6.34, 60.5), (-6.25, 49), (-6.14, 40.8), (-6.07, 42.4), (-5.99, 34.2), (-5.91, 19.4),
         (-5.85, 11.2), (-5.78, 21), (-5.69, 19.4), (-5.60, 34.2), (-5.49, 26), (-5.42, 24.3), (-5.34, 64.6),
         (-5.26, 32.6), (-5.17, 14.5), (-5.08, 4.6), (-4.98, 1.3), (-4.88, 3), (-4.78, 2.6), (-4.69, 4.6),
         (-4.59, 11.2), (-4.49, 14.5), (-4.40, 22.7), (-4.30, 19.4), (-4.20, 21), (-4.07, 24.3), (-3.94, 22.7),
         (-3.81, 27.6), (-3.68, 30.9), (-3.55, 32.6), (-3.45, 45.7), (-3.34, 61.3), (-3.27, 45.7),
         (-3.16, 24.3), (-3.04, 11.2), (-2.91, 7.9), (-2.78, 6.3), (-2.65, 4.6), (-2.52, 5.4), (-2.39, 3.8),
         (-2.26, 2.6), (-1.74, 2.6), (-1.29, 2.6), (-1.09, 2.1), (-0.96, 3.3), (-0.88, 10.4), (-0.83, 24.7),
         (-0.77, 11.2), (-0.68, 3), (-0.45, 2.1), (-0.25, 3), (-0.06, 4.6), (0.10, 12), (0.20, 6.3),
         (0.33, 14.5), (0.46, 8.7), (0.59, 6.3), (0.72, 5.4), (0.85, 7.9), (0.98, 8.7), (1.11, 6.3),
         (1.24, 3.8), (1.37, 1.3), (1.49, 0)]
G_3PXY = [(-16.20, 0), (-16.12, 1), (-15.71, 1.3), (-15.32, 2), (-14.94, 1.3), (-14.55, 2.6), (-14.16, 1.8),
          (-13.90, 3.8), (-13.64, 2.6), (-13.25, 5.4), (-13.12, 3.8), (-12.97, 7.9), (-12.86, 3), (-12.61, 1.3),
          (-12.22, 0.5), (-11.70, 0.5), (-11.44, 2.1), (-11.21, 4.6), (-11.12, 9.5), (-11.05, 19.4),
          (-10.95, 11.2), (-10.83, 12), (-10.73, 8.7), (-10.61, 11.2), (-10.47, 7.1), (-10.35, 7.9),
          (-10.15, 4.9), (-9.89, 6.3), (-9.63, 4.6), (-9.37, 4.9), (-9.11, 4.6), (-8.86, 3.3), (-8.73, 3),
          (-8.62, 0), (-7.49, 0), (-7.43, 4.6), (-7.30, 11.2), (-7.20, 8.7), (-7.11, 12.8), (-7.01, 7.9),
          (-6.92, 10.4), (-6.82, 4.6), (-6.72, 11.2), (-6.63, 26), (-6.53, 37.5), (-6.43, 34.2), (-6.34, 26),
          (-6.23, 15.3), (-6.14, 13.7), (-6.04, 14.5), (-5.93, 12.8), (-5.82, 13.7), (-5.69, 19.4),
          (-5.59, 34.2), (-5.49, 24.3), (-5.36, 21), (-5.26, 17.8), (-5.17, 9.5), (-5.08, 4.6), (-4.98, 11.2),
          (-4.85, 19.4), (-4.72, 24.3), (-4.59, 29.3), (-4.46, 32.6), (-4.33, 26), (-4.23, 26), (-4.14, 37.5),
          (-4.05, 27.6), (-3.94, 29.3), (-3.81, 21), (-3.68, 26), (-3.55, 21.9), (-3.42, 17.8), (-3.29, 12.8),
          (-3.16, 19.4), (-3.04, 9.5), (-2.91, 16.1), (-2.78, 6.3), (-2.65, 11.2), (-2.52, 6.3), (-2.39, 3),
          (-2.26, 1.3), (-1.74, 1.3), (-1.55, 3), (-1.42, 6.3), (-1.29, 8.7), (-1.16, 5.4), (-1.03, 7.1),
          (-0.90, 6.3), (-0.77, 5.4), (-0.58, 4.6), (-0.32, 5.4), (-0.06, 6.3), (0.14, 7.9), (0.33, 11.2),
          (0.46, 11.2), (0.59, 12.8), (0.72, 16.1), (0.85, 13.7), (0.98, 19.4), (1.11, 28.5), (1.21, 22.7),
          (1.34, 11.2), (1.49, 2.1), (1.62, 0)]

# (h) top P, (hcp, atop)
H_3S = [(-16.20, 0), (-16.13, 17), (-16.03, 17.8), (-15.94, 16.1), (-15.85, 19.4), (-15.75, 14.5), (-15.65, 21),
        (-15.56, 12.8), (-15.45, 21.9), (-15.34, 11.2), (-15.24, 23.5), (-15.11, 10.4), (-14.98, 24.3),
        (-14.83, 9.5), (-14.70, 25.2), (-14.53, 9.5), (-14.40, 24.3), (-14.24, 10.4), (-14.08, 22.7),
        (-13.96, 9.5), (-13.76, 27.6), (-13.64, 19.4), (-13.51, 12), (-13.34, 31.7), (-13.25, 29.3),
        (-13.16, 22.7), (-13.06, 10.4), (-13.00, 24.3), (-12.91, 53.1), (-12.84, 29.3), (-12.78, 4.6),
        (-12.68, 6.3), (-12.55, 16.1), (-12.46, 4.6), (-12.36, 3), (-12.23, 3.8), (-12.14, 8.7), (-12.06, 1.3),
        (-11.97, 0), (-11.78, 0), (-11.65, 3.8), (-11.55, 0), (-11.46, 4.6), (-11.37, 14.5), (-11.29, 4.6),
        (-11.23, 0), (-11.14, 27.6), (-11.05, 57.2), (-10.97, 34.2), (-10.88, 21), (-10.76, 24.3),
        (-10.65, 34.2), (-10.56, 14.5), (-10.46, 24.3), (-10.37, 7.9), (-10.27, 26), (-10.18, 7.1),
        (-10.09, 26), (-9.99, 6.3), (-9.88, 26.8), (-9.77, 7.9), (-9.67, 26), (-9.56, 6.3), (-9.48, 26),
        (-9.37, 7.9), (-9.28, 22.7), (-9.19, 9.5), (-9.12, 39.1), (-9.03, 42.4), (-8.96, 37.5), (-8.86, 53.9),
        (-8.81, 73.6), (-8.75, 85.2), (-8.68, 53.9), (-8.60, 0), (-7.30, 0), (-7.11, 0.5), (-6.91, 2.1),
        (-6.72, 3.8), (-6.59, 7.9), (-6.47, 12), (-6.37, 13.2), (-6.27, 11.2), (-6.15, 10.4), (-6.02, 7.1),
        (-5.89, 4.6), (-5.76, 3.8), (-5.63, 4.6), (-5.51, 3), (-5.38, 3.8), (-5.25, 3), (-5.06, 1.3),
        (-4.67, 2.1), (-4.48, 3), (-4.35, 4.6), (-4.25, 11.2), (-4.19, 24.3), (-4.10, 38.4), (-4.01, 26),
        (-3.91, 19.4), (-3.78, 21), (-3.65, 19.4), (-3.55, 17.8), (-3.46, 21), (-3.35, 30.1), (-3.27, 14.5),
        (-3.18, 6.3), (-3.07, 3.8), (-2.88, 2.6), (-2.62, 2.1), (-2.30, 1.3), (-1.66, 1.6), (-1.28, 2.1),
        (-1.02, 3), (-0.90, 4.6), (-0.79, 7.9), (-0.70, 3), (-0.58, 2.1), (-0.38, 3.3), (-0.19, 2.6),
        (0.00, 3.8), (0.13, 4.6), (0.26, 3.8), (0.45, 4.6), (0.64, 3.8), (0.77, 3), (0.90, 4.6), (1.02, 6.3),
        (1.13, 7.1), (1.22, 4.6), (1.34, 2.1), (1.54, 0.5), (1.79, 0)]
H_3PZ = [(-16.20, 0), (-16.13, 2.1), (-15.75, 1.8), (-15.36, 2.6), (-14.98, 1.8), (-14.60, 2.5), (-14.21, 1.8),
         (-13.83, 2.5), (-13.44, 1.8), (-13.06, 2.5), (-12.68, 1.3), (-12.04, 0.5), (-10.76, 0.5), (-9.22, 1),
         (-9.16, 4.6), (-9.07, 11.2), (-8.96, 13.7), (-8.86, 16.9), (-8.77, 21), (-8.71, 16.1), (-8.63, 0),
         (-6.79, 0), (-6.72, 2.1), (-6.63, 11.2), (-6.53, 21), (-6.43, 30.9), (-6.34, 22.7), (-6.25, 14.5),
         (-6.15, 11.2), (-6.02, 6.3), (-5.89, 7.9), (-5.76, 4.6), (-5.63, 9.5), (-5.53, 6.3), (-5.44, 8.7),
         (-5.35, 4.6), (-5.25, 7.9), (-5.12, 3.8), (-4.99, 1.3), (-4.61, 2.1), (-4.42, 3), (-4.29, 4.6),
         (-4.20, 37.5), (-4.12, 78.6), (-4.03, 62.2), (-3.94, 40.8), (-3.87, 47.4), (-3.78, 44.1),
         (-3.69, 55.6), (-3.59, 53.9), (-3.51, 67.1), (-3.43, 86.9), (-3.35, 100), (-3.27, 62.2),
         (-3.18, 17.8), (-3.07, 4.6), (-2.88, 3), (-2.43, 2.1), (-2.18, 2.6), (-2.05, 3.8), (-1.92, 4.6),
         (-1.79, 6.3), (-1.66, 8.7), (-1.54, 10.4), (-1.41, 14.5), (-1.28, 11.2), (-1.15, 8.7), (-1.02, 7.9),
         (-0.90, 11.2), (-0.79, 20.2), (-0.72, 9.5), (-0.58, 7.1), (-0.45, 6.3), (-0.32, 7.1), (-0.19, 8.7),
         (-0.06, 7.9), (0.06, 9.9), (0.19, 7.9), (0.32, 8.7), (0.45, 7.1), (0.58, 7.9), (0.70, 7.1), (0.83, 7.9),
         (0.96, 8.7), (1.09, 12.8), (1.15, 18.6), (1.24, 11.2), (1.34, 4.6), (1.54, 1.3), (1.73, 0)]
H_3PXY = [(-16.20, 0), (-16.13, 1.3), (-15.75, 1.6), (-15.36, 2.3), (-14.98, 1.6), (-14.60, 3), (-14.21, 2.1),
          (-13.83, 3.8), (-13.44, 2.6), (-13.19, 4.1), (-12.93, 3), (-12.80, 3.8), (-12.55, 2.1), (-12.04, 0.5),
          (-11.65, 0.5), (-11.40, 3), (-11.20, 7.9), (-11.08, 12.8), (-11.01, 9.5), (-10.88, 8.7),
          (-10.76, 5.4), (-10.63, 7.1), (-10.50, 4.6), (-10.31, 6.3), (-10.12, 3.8), (-9.86, 4.9), (-9.60, 3.8),
          (-9.35, 3), (-9.09, 2.1), (-8.83, 2.6), (-8.60, 0), (-7.55, 0), (-7.45, 3), (-7.36, 7.9), (-7.27, 6.3),
          (-7.17, 9.5), (-7.07, 6.3), (-6.97, 8.7), (-6.88, 4.6), (-6.79, 11.2), (-6.68, 16.1), (-6.59, 24.3),
          (-6.49, 34.2), (-6.40, 36.7), (-6.31, 30.9), (-6.21, 17.8), (-6.08, 14.5), (-5.95, 13.7),
          (-5.83, 12.8), (-5.70, 14.5), (-5.60, 19.4), (-5.51, 9.5), (-5.40, 24.3), (-5.31, 30.9), (-5.22, 21),
          (-5.12, 14.5), (-4.99, 11.2), (-4.87, 16.1), (-4.76, 18.6), (-4.64, 11.2), (-4.51, 22.7),
          (-4.42, 25.2), (-4.33, 17.8), (-4.23, 22.7), (-4.10, 17.8), (-3.97, 21), (-3.84, 17.8), (-3.71, 15.3),
          (-3.59, 14.5), (-3.46, 12.8), (-3.33, 11.2), (-3.20, 9.5), (-3.07, 13.7), (-2.94, 7.9), (-2.82, 9.5),
          (-2.69, 5.4), (-2.56, 7.9), (-2.43, 3.8), (-2.30, 2.6), (-2.18, 3), (-1.98, 4.6), (-1.86, 7.9),
          (-1.73, 11.2), (-1.60, 14.5), (-1.51, 19.4), (-1.41, 12.8), (-1.28, 11.2), (-1.15, 12), (-1.02, 9.5),
          (-0.90, 8.7), (-0.77, 9.5), (-0.64, 8.7), (-0.51, 7.9), (-0.38, 9.5), (-0.26, 8.7), (-0.13, 10.4),
          (0.00, 12.8), (0.13, 14.5), (0.26, 17.8), (0.38, 21), (0.51, 19.4), (0.64, 23.5), (0.77, 21),
          (0.90, 27.6), (1.00, 34.2), (1.09, 42.4), (1.18, 43.8), (1.28, 34.2), (1.41, 17.8), (1.54, 7.9),
          (1.66, 2.1), (1.79, 0)]

PANEL_LETTERS = ["a", "b", "c", "d", "e", "f", "g", "h"]
PANEL_TITLES = ["Freestanding \u03b2-2D-P", "Top Sc (atop, hcp)",
                "Bottom P (fcc, hcp)", "Top P (fcc, hcp)",
                "Bottom P (atop, hcp)", "Top P (atop, hcp)",
                "Bottom P (hcp, atop)", "Top P (hcp, atop)"]
P_LABELS = ["3s", "3p$_{z}$", "3p$_{(x{,}y)}$"]
SC_LABELS = ["\u03b2-2D-P", "Sc 4s", "Sc 3d x0.3"]
XTICKS = [-15, -10, -5, 0]
XLIM = (-17.0, 2.85)

RED, BLUE, GREEN, BLACK = "#ec1c24", "#0b0bdc", "#1fb032", "#000000"
P_COLORS = [RED, BLUE, GREEN]
SC_COLORS = [BLACK, BLUE, GREEN]

panels = [
    (A_3S, A_3PZ, A_3PXY), (B_P2D, B_SC4S, B_SC3D),
    (C_3S, C_3PZ, C_3PXY), (D_3S, D_3PZ, D_3PXY),
    (E_3S, E_3PZ, E_3PXY), (F_3S, F_3PZ, F_3PXY),
    (G_3S, G_3PZ, G_3PXY), (H_3S, H_3PZ, H_3PXY),
]

# ---------------------------------------------------------------------------
W, H = 1255, 957
fig = plt.figure(figsize=(W / 100, H / 100), dpi=100)
fig.patch.set_facecolor("white")

COLS = [(44, 645), (658, 1260)]
ROWS = [(13, 212), (238, 438), (463, 664), (697, 898)]
LEG_ROWS = [(20, 51, 84), (24, 55, 86), (24, 54, 86), (20, 51, 83)]
FRAME = "#404040"


def px(v):
    return ScaledTranslation(v / 100, 0, fig.dpi_scale_trans)


for i, curves in enumerate(panels):
    r, c = divmod(i, 2)
    x0, x1 = COLS[c]
    y0, y1 = ROWS[r]
    ax = fig.add_axes([x0 / W, 1 - y1 / H, (x1 - x0) / W, (y1 - y0) / H])
    hpx = y1 - y0
    is_sc = (i == 1)
    colors = SC_COLORS if is_sc else P_COLORS
    labels = SC_LABELS if is_sc else P_LABELS

    # green first, red/black last so it sits on top
    for pts, col in reversed(list(zip(curves, colors))):
        e, v = zip(*pts)
        ax.plot(e, v, color=col, lw=1.8, solid_joinstyle="miter")

    ax.set_xlim(*XLIM)
    ax.set_ylim(-1.0, 100)
    ax.set_yticks([])
    ax.set_xticks(XTICKS)
    ax.set_xticklabels([str(t) for t in XTICKS], fontweight="bold")
    ax.tick_params(axis="x", direction="in", top=True, bottom=True, length=5, width=1.4,
                   color=FRAME, labelsize=16, pad=5, labelbottom=(r == 3))
    for s in ax.spines.values():
        s.set_color(FRAME)
        s.set_linewidth(1.4)

    if r == 3:
        ax.set_xlabel("E-E$_{F}$ (eV)", fontsize=20, fontweight="bold", labelpad=-1)
        if c == 1:
            for tk in ax.xaxis.get_major_ticks():
                tk.label1.set_transform(tk.label1.get_transform() + px(14))

    if c == 0:
        ax.text(-0.035, 0.55, "PDOS", transform=ax.transAxes, rotation=90,
                ha="center", va="center", fontsize=19, fontweight="bold")

    ax.text(0.016, 0.88, PANEL_LETTERS[i], transform=ax.transAxes,
            ha="left", va="center", fontsize=24, fontweight="bold")
    ax.text(0.108 if c == 0 else 0.112, 0.885, PANEL_TITLES[i], transform=ax.transAxes,
            ha="left", va="center", fontsize=18.5, fontweight="bold")

    # legend drawn as short line segments with labels
    if is_sc:
        lx0, lx1, tx = (1095 - x0) / (x1 - x0), (1125 - x0) / (x1 - x0), (1133 - x0) / (x1 - x0)
        rows = (22, 52, 82)
    else:
        base = 533 if c == 0 else 1147
        lx0 = (base - x0) / (x1 - x0)
        lx1 = (base + 34 - x0) / (x1 - x0)
        tx = (base + 41 - x0) / (x1 - x0)
        rows = LEG_ROWS[r]
    for lab, col, ry in zip(labels, colors, rows):
        yf = 1 - ry / hpx
        ax.plot([lx0, lx1], [yf, yf], transform=ax.transAxes, color=col, lw=2.4,
                solid_capstyle="butt", clip_on=False)
        ax.text(tx, yf, lab, transform=ax.transAxes + ScaledTranslation(0, -9 / 100, fig.dpi_scale_trans),
                ha="left", va="baseline", fontsize=18, fontweight="bold")

fig.savefig("out.png", dpi=100, facecolor="white")
